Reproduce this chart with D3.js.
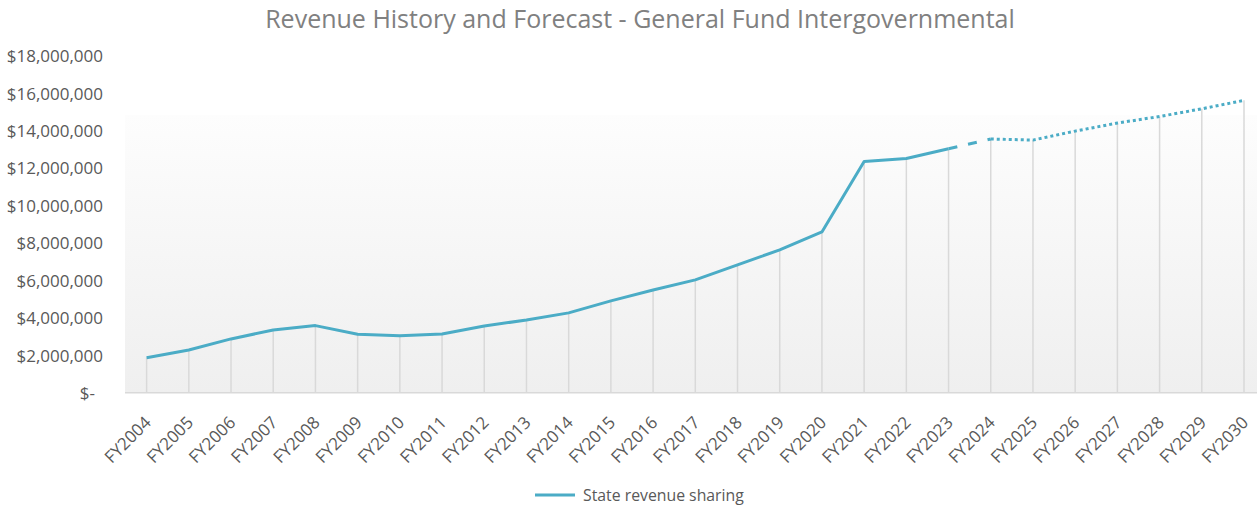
<!DOCTYPE html>
<html>
<head>
<meta charset="utf-8">
<script src="https://cdn.jsdelivr.net/npm/d3@7"></script>
<style>
  html, body { margin: 0; padding: 0; background: #ffffff; }
  svg { display: block; }
  text { font-family: "Open Sans", "Noto Sans", sans-serif; }
</style>
</head>
<body>
<svg id="chart" width="1257" height="508"></svg>
<script>
// Fiscal years shown on the category axis
const years = ["FY2004","FY2005","FY2006","FY2007","FY2008","FY2009","FY2010","FY2011",
  "FY2012","FY2013","FY2014","FY2015","FY2016","FY2017","FY2018","FY2019","FY2020",
  "FY2021","FY2022","FY2023","FY2024","FY2025","FY2026","FY2027","FY2028","FY2029","FY2030"];

// State revenue sharing, dollars (FY2024 onward is forecast)
const revenue = [1870000, 2280000, 2870000, 3350000, 3580000, 3120000, 3040000, 3130000,
  3560000, 3880000, 4260000, 4900000, 5480000, 6020000, 6820000, 7620000, 8580000,
  12340000, 12500000, 13020000, 13540000, 13480000, 13960000, 14390000, 14740000, 15150000, 15600000];

// Segment boundaries: actuals end at FY2023, the FY2023-FY2024 step is a transition, then forecast
const lastActual = "FY2023";
const firstForecast = "FY2024";

// Value axis ticks
const yTicks = [0, 2000000, 4000000, 6000000, 8000000, 10000000, 12000000, 14000000, 16000000, 18000000];

const seriesName = "State revenue sharing";
const title = "Revenue History and Forecast - General Fund Intergovernmental";

const W = 1257, H = 508;
const plot = { left: 125, right: 1257, top: 55.4, bottom: 392.7, fillTop: 115 };
const lineColor = "#4bacc6";

const svg = d3.select("#chart");
const data = years.map((y, i) => ({ year: y, value: revenue[i] }));

const x = d3.scalePoint().domain(years).range([146.6, 1244]);
const y = d3.scaleLinear().domain([0, 18000000]).range([plot.bottom, plot.top]);

// Plot area gradient fill
const defs = svg.append("defs");
const grad = defs.append("linearGradient").attr("id", "plotFill")
  .attr("x1", 0).attr("y1", 0).attr("x2", 0).attr("y2", 1);
grad.append("stop").attr("offset", "0%").attr("stop-color", "#fdfdfd");
grad.append("stop").attr("offset", "100%").attr("stop-color", "#efefef");

svg.append("rect")
  .attr("x", plot.left).attr("y", plot.fillTop)
  .attr("width", plot.right - plot.left).attr("height", plot.bottom - plot.fillTop)
  .attr("fill", "url(#plotFill)");

// Title
svg.append("text")
  .attr("x", 640).attr("y", 28)
  .attr("text-anchor", "middle")
  .attr("font-size", 25)
  .attr("fill", "#808080")
  .text(title);

// Y axis labels
const yAxis = d3.axisLeft(y)
  .tickValues(yTicks)
  .tickSize(0)
  .tickPadding(0)
  .tickFormat(v => v === 0 ? "$-" : "$" + d3.format(",")(v));

const gy = svg.append("g").attr("transform", "translate(103,0)").call(yAxis);
gy.select(".domain").remove();
gy.selectAll("text")
  .attr("font-size", 17)
  .attr("fill", "#595959")
  .attr("font-family", "Open Sans, sans-serif")
  .attr("dy", "0.36em")
  .attr("x", v => v === 0 ? -8 : 0);

// Drop lines from each point to the category axis
svg.append("g").selectAll("line").data(data).join("line")
  .attr("x1", d => x(d.year)).attr("x2", d => x(d.year))
  .attr("y1", d => y(d.value)).attr("y2", y(0))
  .attr("stroke", "#d9d9d9").attr("stroke-width", 1.5);

// Category axis line
svg.append("line")
  .attr("x1", plot.left).attr("x2", plot.right)
  .attr("y1", y(0)).attr("y2", y(0))
  .attr("stroke", "#d9d9d9").attr("stroke-width", 1.5);

// X axis labels, rotated
const xAxis = d3.axisBottom(x).tickSize(0).tickPadding(0);
const gx = svg.append("g").attr("transform", `translate(0,${y(0)})`).call(xAxis);
gx.select(".domain").remove();
gx.selectAll(".tick text")
  .attr("font-size", 17)
  .attr("fill", "#595959")
  .attr("font-family", "Open Sans, sans-serif")
  .attr("text-anchor", "end")
  .attr("y", 0).attr("dy", 0)
  .attr("transform", "translate(5,31) rotate(-45)");

// Series line, split into actual / transition / forecast segments
const line = d3.line().x(d => x(d.year)).y(d => y(d.value));
const iA = years.indexOf(lastActual);
const iF = years.indexOf(firstForecast);

svg.append("path").datum(data.slice(0, iA + 1))
  .attr("d", line).attr("fill", "none")
  .attr("stroke", lineColor).attr("stroke-width", 3)
  .attr("stroke-linejoin", "round");

svg.append("path").datum(data.slice(iA, iF + 1))
  .attr("d", line).attr("fill", "none")
  .attr("stroke", lineColor).attr("stroke-width", 3)
  .attr("stroke-dasharray", "9,11");

svg.append("path").datum(data.slice(iF))
  .attr("d", line).attr("fill", "none")
  .attr("stroke", lineColor).attr("stroke-width", 3)
  .attr("stroke-dasharray", "3,3");

// Legend
const legend = svg.append("g").attr("transform", "translate(535,495)");
legend.append("line").attr("x1", 0).attr("x2", 40).attr("y1", 0).attr("y2", 0)
  .attr("stroke", lineColor).attr("stroke-width", 3);
legend.append("text").attr("x", 48).attr("y", 5.5)
  .attr("font-size", 15.8).attr("fill", "#595959")
  .text(seriesName);
</script>
</body>
</html>
